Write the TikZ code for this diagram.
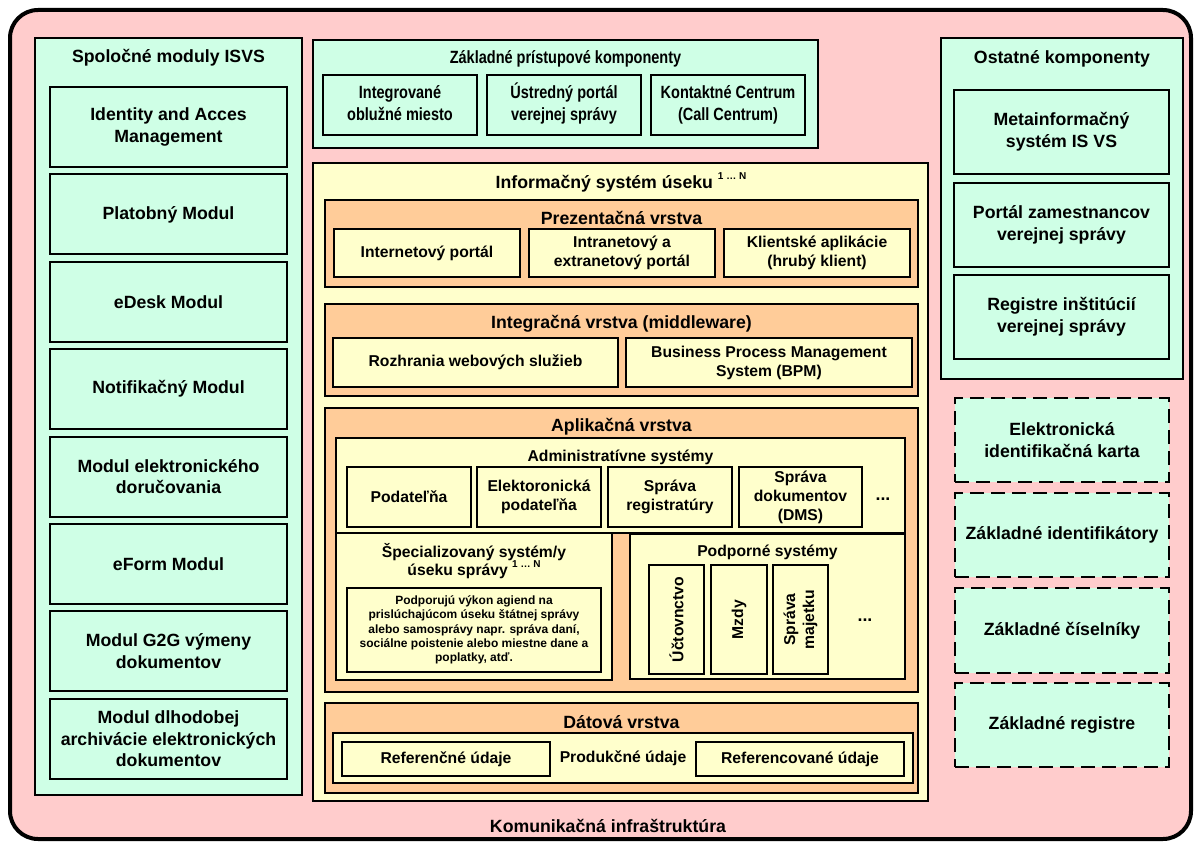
\documentclass[tikz,border=0pt]{standalone}
\usepackage{fontspec}
\setmainfont{Liberation Sans}
\definecolor{pinkbg}{HTML}{FFCCCC}
\definecolor{mint}{HTML}{CFFFE6}
\definecolor{lyel}{HTML}{FFFFCC}
\definecolor{orng}{HTML}{FFCC99}
\newcommand\ftit{\fontsize{17.7}{21.7}\selectfont\bfseries}
\newcommand\fmid{\fontsize{15.7}{19}\selectfont\bfseries}
\newcommand\fsml{\fontsize{12}{14.3}\selectfont\bfseries}
\newcommand\supN{\raisebox{0.5em}{\fontsize{10}{10}\selectfont 1 … N}}
\newcommand\cmp[1]{\scalebox{0.82}[1]{\begin{tabular}{@{}c@{}}#1\end{tabular}}}
\begin{document}
\begin{tikzpicture}[x=1pt,y=-1pt,
  bx/.style={draw=black, line width=2pt, inner sep=0pt, align=center},
  rb/.style args={#1/#2/#3/#4}{minimum width={#3-#1}, minimum height={#4-#2}, at={({(#1+#3)/2},{(#2+#4)/2})}},
  mintbox/.style={bx, fill=mint},
  yelbox/.style={bx, fill=lyel},
  orbox/.style={bx, fill=orng},
  dashbox/.style={bx, fill=mint, line width=2.5pt, dash pattern=on 14pt off 7pt},
  ttl/.style={font=\ftit, anchor=base, inner sep=0pt},
  sub/.style={font=\fmid, anchor=base, inner sep=0pt},
  lbl/.style={inner sep=0pt, align=center}]
\useasboundingbox (0,0) rectangle (1197,843);
% outer
\draw[fill=pinkbg, line width=4pt, rounded corners=28pt] (10,10) rectangle (1191,839);
\node[ttl] (komun) at (608,832) {Komunikačná infraštruktúra};

% left column
\node[mintbox, rb=35/38/302/795] (spol) {};
\node[ttl] (spolt) at (168.5,63) {Spoločné moduly ISVS};
\node[mintbox, font=\ftit, rb=50/87/287/167] (m1) {Identity and Acces\\Management};
\node[mintbox, font=\ftit, rb=50/174.4/287/254.4] (m2) {Platobný Modul};
\node[mintbox, font=\ftit, rb=50/261.8/287/341.8] (m3) {eDesk Modul};
\node[mintbox, font=\ftit, rb=50/349.2/287/429.2] (m4) {Notifikačný Modul};
\node[mintbox, font=\ftit, rb=50/436.6/287/516.6] (m5) {Modul elektronického\\doručovania};
\node[mintbox, font=\ftit, rb=50/524/287/604] (m6) {eForm Modul};
\node[mintbox, font=\ftit, rb=50/611.4/287/691.4] (m7) {Modul G2G výmeny\\dokumentov};
\node[mintbox, font=\ftit, rb=50/698.8/287/778.8] (m8) {Modul dlhodobej\\archivácie elektronických\\dokumentov};

% top middle
\node[mintbox, rb=313/40/818/148] (zpk) {};
\node[ttl] (zpkt) at (565.5,64) {\scalebox{0.82}[1]{Základné prístupové komponenty}};
\node[mintbox, font=\ftit, rb=323/75/477/135] (z1) {\cmp{Integrované\\oblužné miesto}};
\node[mintbox, font=\ftit, rb=487/75/641/135] (z2) {\cmp{Ústredný portál\\verejnej správy}};
\node[mintbox, font=\ftit, rb=651/75/805/135] (z3) {\cmp{Kontaktné Centrum\\(Call Centrum)}};

% right column
\node[mintbox, rb=941/38/1183/379] (ost) {};
\node[ttl] (ostt) at (1062,64) {Ostatné komponenty};
\node[mintbox, font=\ftit, rb=954/90/1169/174] (o1) {Metainformačný\\systém IS VS};
\node[mintbox, font=\ftit, rb=954/183/1169/267] (o2) {Portál zamestnancov\\verejnej správy};
\node[mintbox, font=\ftit, rb=954/275/1169/359] (o3) {Registre inštitúcií\\verejnej správy};
\node[dashbox, font=\ftit, rb=955/398/1169/482] (d1) {Elektronická\\identifikačná karta};
\node[dashbox, font=\ftit, rb=955/493/1169/577] (d2) {Základné identifikátory};
\node[dashbox, font=\ftit, rb=955/588/1169/673] (d3) {Základné číselníky};
\node[dashbox, font=\ftit, rb=955/683/1169/767] (d4) {Základné registre};

% information system
\node[yelbox, rb=313/163/928/801] (is) {};
\node[ttl] (ist) at (621,188) {Informačný systém úseku \supN};

% presentation layer
\node[orbox, rb=325/200/918/287] (pv) {};
\node[ttl] (pvt) at (621.5,224) {Prezentačná vrstva};
\node[yelbox, font=\fmid, rb=334/229/520/277] (p1) {Internetový portál};
\node[yelbox, font=\fmid, rb=529/229/715/277] (p2) {Intranetový a\\extranetový portál};
\node[yelbox, font=\fmid, rb=724/229/910/277] (p3) {Klientské aplikácie\\(hrubý klient)};

% integration layer
\node[orbox, rb=325/304/918/396] (iv) {};
\node[ttl] (ivt) at (621.5,328) {Integračná vrstva (middleware)};
\node[yelbox, font=\fmid, rb=333/338/618/387] (i1) {Rozhrania webových služieb};
\node[yelbox, font=\fmid, rb=626/338/912/387] (i2) {Business Process Management\\System (BPM)};

% application layer
\node[orbox, rb=325/408/918/692] (av) {};
\node[ttl] (avt) at (621.5,431) {Aplikačná vrstva};
\node[yelbox, rb=336/438/905/533] (adm) {};
\node[sub] (admt) at (620.5,461.5) {Administratívne systémy};
\node[yelbox, font=\fmid, rb=347/467/471/527] (a1) {Podateľňa};
\node[yelbox, font=\fmid, rb=477/467/601/527] (a2) {Elektoronická\\podateľňa};
\node[yelbox, font=\fmid, rb=608/467/732/527] (a3) {Správa\\registratúry};
\node[yelbox, font=\fmid, rb=739/467/862/527] (a4) {Správa\\dokumentov\\(DMS)};
\node[ttl] (adots) at (883,500) {...};
\node[yelbox, rb=336/533/612/680] (spec) {};
\node[sub] (spect1) at (474,557) {Špecializovaný systém/y};
\node[sub] (spect2) at (474,575.5) {úseku správy \supN};
\node[yelbox, font=\fsml, rb=347/588/601/672] (specd) {Podporujú výkon agiend na\\prislúchajúcom úseku štátnej správy\\alebo samosprávy napr. správa daní,\\sociálne poistenie alebo miestne dane a\\poplatky, atď.};
\node[yelbox, rb=630/534/905/679] (pod) {};
\node[sub] (podt) at (767.5,556.6) {Podporné systémy};
\node[yelbox, rb=649/565/704/674] (s1) {};
\node[lbl, font=\fmid, rotate=90] (s1t) at (s1.center) {Účtovnctvo};
\node[yelbox, rb=711/565/767/674] (s2) {};
\node[lbl, font=\fmid, rotate=90] (s2t) at (s2.center) {Mzdy};
\node[yelbox, rb=773/565/828/674] (s3) {};
\node[lbl, font=\fmid, rotate=90] (s3t) at (s3.center) {Správa\\majetku};
\node[ttl] (pdots) at (865,621) {...};

% data layer
\node[orbox, rb=325/703/918/793] (dv) {};
\node[ttl] (dvt) at (621.5,728) {Dátová vrstva};
\node[yelbox, rb=333/733/913/783] (dd) {};
\node[yelbox, font=\fmid, rb=342/742/550/776] (r1) {Referenčné údaje};
\node[lbl, font=\fmid] (prod) at (623,758) {Produkčné údaje};
\node[yelbox, font=\fmid, rb=696/742/904/776] (r2) {Referencované údaje};
\end{tikzpicture}
\end{document}
